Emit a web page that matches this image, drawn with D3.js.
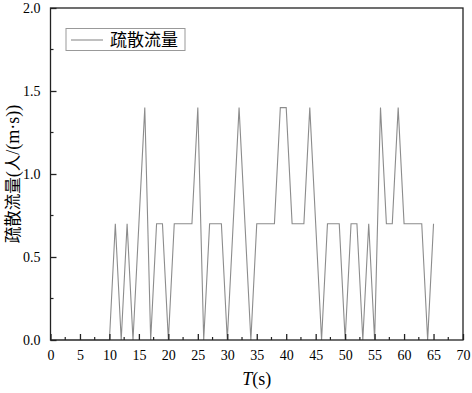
<!DOCTYPE html>
<html><head><meta charset="utf-8">
<script src="https://cdn.jsdelivr.net/npm/d3@7"></script>
<style>body{margin:0;background:#fff;} svg{display:block;}</style>
</head><body>
<script>
const times = [0,1,2,3,4,5,6,7,8,9,10,11,12,13,14,15,16,17,18,19,20,21,22,23,24,25,26,27,28,29,30,31,32,33,34,35,36,37,38,39,40,41,42,43,44,45,46,47,48,49,50,51,52,53,54,55,56,57,58,59,60,61,62,63,64,65];
const flow  = [0,0,0,0,0,0,0,0,0,0,0,0.7,0,0.7,0,0.7,1.4,0,0.7,0.7,0,0.7,0.7,0.7,0.7,1.4,0,0.7,0.7,0.7,0,0.7,1.4,0.7,0,0.7,0.7,0.7,0.7,1.4,1.4,0.7,0.7,0.7,1.4,0.7,0,0.7,0.7,0.7,0,0.7,0.7,0,0.7,0,1.4,0.7,0.7,1.4,0.7,0.7,0.7,0.7,0,0.7];
const xMajorTicks = [0,5,10,15,20,25,30,35,40,45,50,55,60,65,70];
const yMajorTicks = [0,0.5,1.0,1.5,2.0];
const seriesName = "疏散流量";
const xTitle = "T";
const xUnit = "(s)";
const yTitle = "疏散流量(人/(m·s))";

const W = 472, H = 393;
const m = {left: 50.5, right: 472-463, top: 8, bottom: 393-340};
const svg = d3.select("body").append("svg").attr("width", W).attr("height", H);
const x = d3.scaleLinear().domain([0,70]).range([m.left, W-m.right]);
const y = d3.scaleLinear().domain([0,2.0]).range([H-m.bottom, m.top]);
const numFont = "'Liberation Serif','Times New Roman',serif";
const cjkFont = "'Noto Sans CJK SC',sans-serif";

// data line
const line = d3.line().x((d,i)=>x(times[i])).y(d=>y(d));
svg.append("path").datum(flow).attr("d", line)
  .attr("fill","none").attr("stroke","#8c8c8c").attr("stroke-width",1.1);

// frame
svg.append("rect").attr("x", x(0)).attr("y", y(2)).attr("width", x(70)-x(0)).attr("height", y(0)-y(2))
  .attr("fill","none").attr("stroke","#222").attr("stroke-width",1.3);

// x axis
const xMinor = d3.range(0,70.01,2.5).filter(v=>v%5!==0);
const xAxis = d3.axisBottom(x).tickValues(xMajorTicks).tickSize(-6).tickPadding(10).tickFormat(d3.format("d"));
const gx = svg.append("g").attr("transform",`translate(0,${y(0)})`).call(xAxis);
gx.select(".domain").remove();
gx.selectAll(".tick line").attr("stroke","#222").attr("stroke-width",1.3);
gx.selectAll("text").attr("font-family",numFont).attr("font-size",14).attr("fill","#000");
svg.append("g").selectAll("line").data(xMinor).join("line")
  .attr("x1",d=>x(d)).attr("x2",d=>x(d)).attr("y1",y(0)).attr("y2",y(0)-3)
  .attr("stroke","#222").attr("stroke-width",1.2);

// y axis
const yMinor = d3.range(0.25,2.0,0.5);
const yAxis = d3.axisLeft(y).tickValues(yMajorTicks).tickSize(-6).tickPadding(10).tickFormat(d3.format(".1f"));
const gy = svg.append("g").attr("transform",`translate(${x(0)},0)`).call(yAxis);
gy.select(".domain").remove();
gy.selectAll(".tick line").attr("stroke","#222").attr("stroke-width",1.3);
gy.selectAll("text").attr("font-family",numFont).attr("font-size",14).attr("fill","#000");
svg.append("g").selectAll("line").data(yMinor).join("line")
  .attr("y1",d=>y(d)).attr("y2",d=>y(d)).attr("x1",x(0)).attr("x2",x(0)+3)
  .attr("stroke","#222").attr("stroke-width",1.2);

// axis titles
const xt = svg.append("text").attr("x", (x(0)+x(70))/2).attr("y", 385)
  .attr("text-anchor","middle").attr("font-family",numFont).attr("font-size",18).attr("fill","#000");
xt.append("tspan").attr("font-style","italic").text(xTitle);
xt.append("tspan").text(xUnit);

const yt = svg.append("text").attr("transform",`translate(19,${(y(0)+y(2))/2}) rotate(-90)`)
  .attr("text-anchor","middle").attr("font-size",17).attr("fill","#000");
// split title into CJK runs and Latin runs
const runs = yTitle.match(/[\u4e00-\u9fff]+|[^\u4e00-\u9fff]+/g);
runs.forEach(r => {
  const isCjk = /[\u4e00-\u9fff]/.test(r);
  yt.append("tspan").attr("font-family", isCjk ? cjkFont : numFont)
    .attr("font-size", isCjk ? 16.5 : 18).text(r);
});

// legend
const lg = svg.append("g");
lg.append("rect").attr("x",66).attr("y",28.5).attr("width",119).attr("height",22)
  .attr("fill","#fff").attr("stroke","#999").attr("stroke-width",1);
lg.append("line").attr("x1",71).attr("x2",103).attr("y1",40).attr("y2",40)
  .attr("stroke","#8c8c8c").attr("stroke-width",1.1);
lg.append("text").attr("x",110).attr("y",46).attr("font-family",cjkFont)
  .attr("font-size",17).attr("fill","#000").text(seriesName);
</script>
</body></html>
